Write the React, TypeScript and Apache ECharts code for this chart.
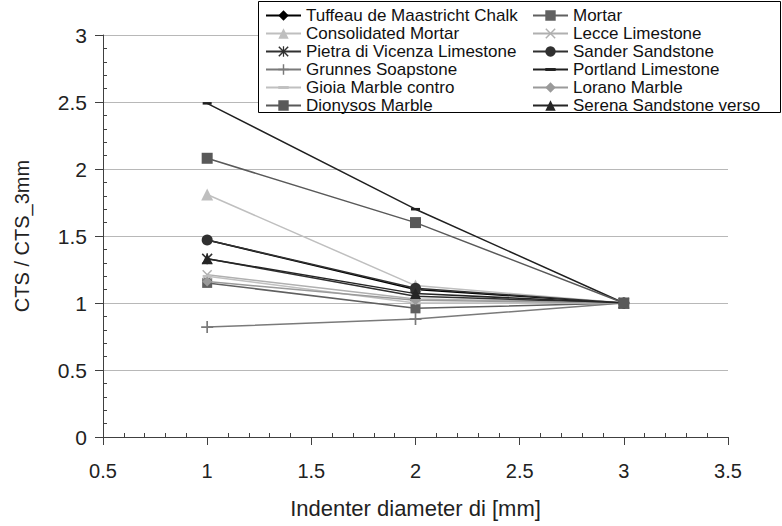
import React, { useEffect, useRef } from "react";
import * as echarts from "echarts";

const xValues = [1, 2, 3];
const seriesNames = [
  "Tuffeau de Maastricht Chalk",
  "Mortar",
  "Consolidated Mortar",
  "Lecce Limestone",
  "Pietra di Vicenza Limestone",
  "Sander Sandstone",
  "Grunnes Soapstone",
  "Portland Limestone",
  "Gioia Marble contro",
  "Lorano Marble",
  "Dionysos Marble",
  "Serena Sandstone verso",
];
const tuffeau = [1.47, 1.1, 1.0];
const mortar = [1.15, 0.96, 1.0];
const consolidatedMortar = [1.81, 1.13, 1.0];
const lecce = [1.21, 1.03, 1.0];
const pietra = [1.33, 1.05, 1.0];
const sander = [1.47, 1.11, 1.0];
const grunnes = [0.82, 0.88, 1.0];
const portland = [2.49, 1.7, 1.0];
const gioia = [1.2, 1.0, 1.0];
const lorano = [1.16, 1.02, 1.0];
const dionysos = [2.08, 1.6, 1.0];
const serena = [1.33, 1.07, 1.0];
const allValues = [tuffeau, mortar, consolidatedMortar, lecce, pietra, sander, grunnes, portland, gioia, lorano, dionysos, serena];

const PLUS = "path://M4.3,0 H5.7 V4.3 H10 V5.7 H5.7 V10 H4.3 V5.7 H0 V4.3 H4.3 Z";
const CROSS = "path://M0,1 L1,0 L5,4 L9,0 L10,1 L6,5 L10,9 L9,10 L5,6 L1,10 L0,9 L4,5 Z";
const STAR = "path://M0,1 L1,0 L5,4 L9,0 L10,1 L6,5 L10,9 L9,10 L5,6 L1,10 L0,9 L4,5 Z M4.4,0 H5.6 V10 H4.4 Z";
const DASH = "path://M0,0 L0,0 M10,10 L10,10 M0,3.6 H10 V6.4 H0 Z";

const styles: { color: string; symbol: string; size: number; z: number }[] = [
  { color: "#000000", symbol: "diamond", size: 10, z: 2.0 },
  { color: "#606060", symbol: "rect", size: 10, z: 2.01 },
  { color: "#bfbfbf", symbol: "triangle", size: 12, z: 2.02 },
  { color: "#b0b0b0", symbol: CROSS, size: 10, z: 2.03 },
  { color: "#303030", symbol: STAR, size: 11, z: 2.04 },
  { color: "#303030", symbol: "circle", size: 11, z: 2.05 },
  { color: "#7a7a7a", symbol: PLUS, size: 12, z: 2.06 },
  { color: "#202020", symbol: DASH, size: 9, z: 2.07 },
  { color: "#c0c0c0", symbol: DASH, size: 9, z: 2.08 },
  { color: "#9a9a9a", symbol: "diamond", size: 10, z: 2.09 },
  { color: "#595959", symbol: "rect", size: 11, z: 2.2 },
  { color: "#252525", symbol: "triangle", size: 11, z: 2.1 },
];

const FONT = 'Arial, "Liberation Sans", sans-serif';

export default function App() {
  const ref = useRef<HTMLDivElement>(null);
  useEffect(() => {
    if (!ref.current) return;
    const chart = echarts.init(ref.current, undefined, { renderer: "svg" });
    const series = seriesNames.map((name, i) => ({
      name,
      type: "line",
      data: xValues.map((x, j) => [x, allValues[i][j]]),
      symbol: styles[i].symbol,
      symbolSize: styles[i].size,
      showAllSymbol: true,
      lineStyle: { color: styles[i].color, width: 1.5 },
      itemStyle: { color: styles[i].color, borderWidth: 0 },
      z: styles[i].z,
    }));
    const legendBase = {
      orient: "vertical",
      top: 7,
      itemWidth: 35,
      itemHeight: 13,
      itemGap: 1,
      z: 10,
      textStyle: { fontFamily: FONT, fontSize: 17, color: "#111", lineHeight: 17 },
      padding: 0,
    };
    chart.setOption({
      animation: false,
      backgroundColor: "#ffffff",
      textStyle: { fontFamily: FONT },
      grid: { left: 103, right: 54, top: 35, bottom: 89, containLabel: false },
      legend: [
        { ...legendBase, left: 265, data: seriesNames.filter((_, i) => i % 2 === 0) },
        { ...legendBase, left: 532, data: seriesNames.filter((_, i) => i % 2 === 1) },
      ],
      graphic: [
        {
          type: "rect",
          z: 5,
          shape: { x: 258.5, y: 1.5, width: 522, height: 111 },
          style: { fill: "#ffffff", stroke: "#000000", lineWidth: 1 },
        },
      ],
      xAxis: {
        type: "value",
        min: 0.5,
        max: 3.5,
        interval: 0.5,
        name: "Indenter diameter di [mm]",
        nameLocation: "middle",
        nameGap: 60,
        nameTextStyle: { fontFamily: FONT, fontSize: 22, color: "#222" },
        axisLine: { show: true, onZero: false, lineStyle: { color: "#404040", width: 1 } },
        axisTick: { show: true, inside: true, length: -8, lineStyle: { color: "#404040" } },
        minorTick: { show: true, splitNumber: 5, length: 4, lineStyle: { color: "#404040" } },
        axisLabel: { fontFamily: FONT, fontSize: 20, color: "#222", margin: 24 },
        splitLine: { show: false },
      },
      yAxis: {
        type: "value",
        min: 0,
        max: 3,
        interval: 0.5,
        name: "CTS / CTS_3mm",
        nameLocation: "middle",
        nameGap: 71,
        nameTextStyle: { fontFamily: FONT, fontSize: 20, color: "#222" },
        axisLine: { show: true, onZero: false, lineStyle: { color: "#404040", width: 1 } },
        axisTick: { show: true, inside: true, length: -8, lineStyle: { color: "#404040" } },
        minorTick: { show: true, splitNumber: 5, length: 4, lineStyle: { color: "#404040" } },
        axisLabel: { fontFamily: FONT, fontSize: 21, color: "#222", margin: 16 },
        splitLine: { show: true, lineStyle: { color: "#b8b8b8", width: 1 } },
      },
      series,
    });
    return () => chart.dispose();
  }, []);
  return (
    <div
      ref={ref}
      style={{ position: "fixed", left: 0, top: 0, width: 782, height: 526 }}
    />
  );
}
